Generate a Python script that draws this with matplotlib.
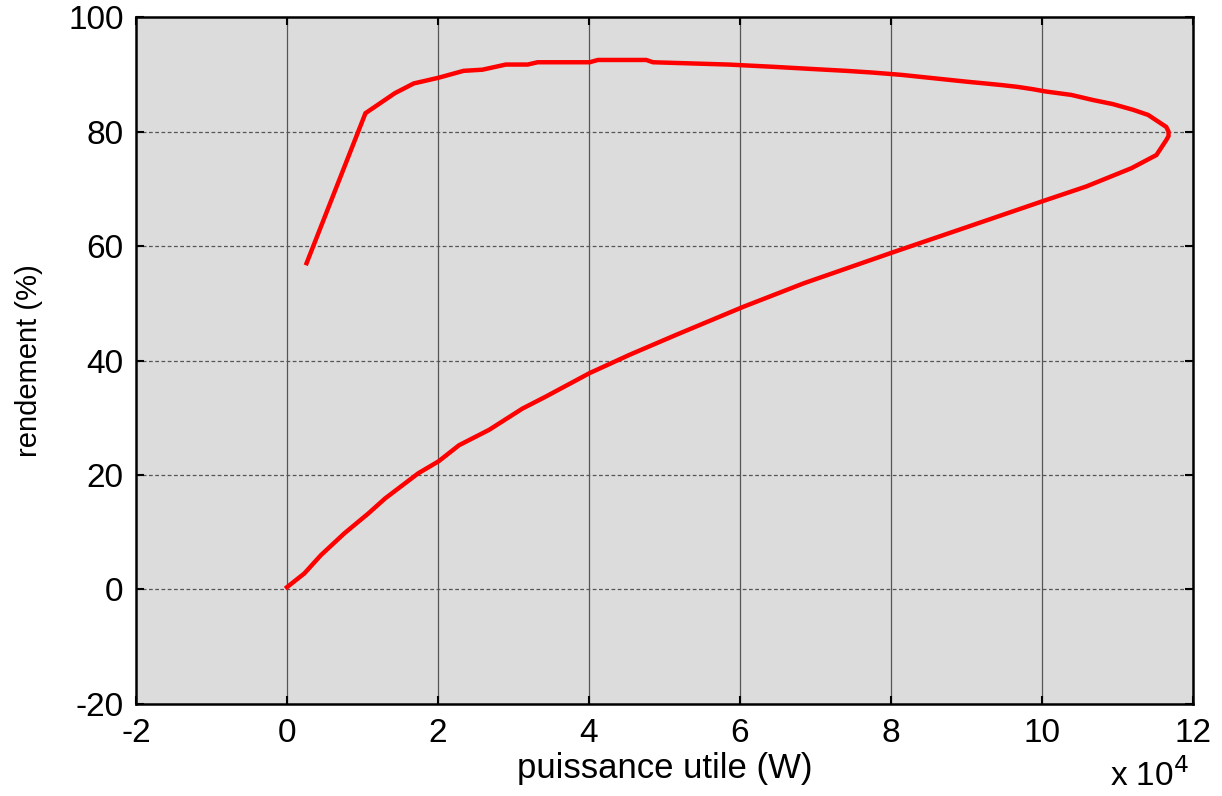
import matplotlib
matplotlib.use("Agg")
import matplotlib.pyplot as plt
import numpy as np

# puissance utile (x 1e4 W) and rendement (%)
P = [0.0, 0.23, 0.45, 0.76, 1.08, 1.30, 1.74, 2.01, 2.28, 2.68, 3.12, 3.43, 4.01,
     4.54, 5.16, 6.05, 6.85, 8.05, 9.03, 10.05, 10.59, 11.19, 11.52, 11.65, 11.68,
     11.68, 11.65, 11.41, 11.21, 10.94, 10.68, 10.39, 10.05, 9.88, 9.68, 9.48, 9.25,
     9.01, 8.72, 8.43, 8.14, 7.76, 7.41, 6.99, 6.45, 5.85, 4.85, 4.76, 4.12, 4.01,
     3.32, 3.19, 2.90, 2.59, 2.34, 2.01, 1.68, 1.43, 1.04, 0.26]
R = [0.4, 2.8, 6.0, 9.8, 13.3, 15.9, 20.3, 22.4, 25.2, 27.9, 31.6, 33.7, 37.8,
     41.0, 44.5, 49.4, 53.5, 59.0, 63.4, 68.0, 70.4, 73.6, 75.9, 78.5, 79.2,
     80.0, 80.8, 82.9, 83.8, 84.8, 85.5, 86.4, 87.0, 87.4, 87.8, 88.1, 88.4,
     88.7, 89.1, 89.5, 89.9, 90.3, 90.6, 90.9, 91.3, 91.7, 92.1, 92.5, 92.5, 92.1,
     92.1, 91.7, 91.7, 90.8, 90.6, 89.4, 88.4, 86.7, 83.2, 57.0]

xticks = [-2, 0, 2, 4, 6, 8, 10, 12]
yticks = [-20, 0, 20, 40, 60, 80, 100]

plt.rcParams['font.family'] = ['Liberation Sans', 'DejaVu Sans']

fig = plt.figure(figsize=(12.22, 7.96), dpi=100)
ax = fig.add_axes([0.1113, 0.1156, 0.8647, 0.863])
ax.set_facecolor('#dcdcdc')

ax.set_xlim(-2, 12)
ax.set_ylim(-20, 100)
ax.set_xticks(xticks)
ax.set_yticks(yticks)
ax.set_xticklabels([str(t) for t in xticks])
ax.set_yticklabels([str(t) for t in yticks])

for xv in xticks[1:-1]:
    ax.axvline(xv, color='#555555', lw=0.9, zorder=1)
for yv in yticks[1:-1]:
    ax.axhline(yv, color='#555555', lw=0.9, ls=(0, (3, 2)), zorder=1)

ax.plot(P, R, color='#ff0000', lw=3.2, zorder=3, solid_joinstyle='miter')

ax.tick_params(direction='in', length=6, width=1.5, top=True, right=True,
               labelsize=24, colors='black')
ax.tick_params(axis='y', pad=9)
ax.tick_params(axis='x', pad=10)
for s in ax.spines.values():
    s.set_linewidth(1.8)
    s.set_color('black')

ax.set_xlabel('puissance utile (W)', fontsize=25, labelpad=2)
ax.set_ylabel('rendement (%)', fontsize=21, labelpad=18)
fig.text(0.908, 0.004, r'x 10$^{4}$', fontsize=24, ha='left', va='bottom')

fig.savefig('out.png', dpi=100)
